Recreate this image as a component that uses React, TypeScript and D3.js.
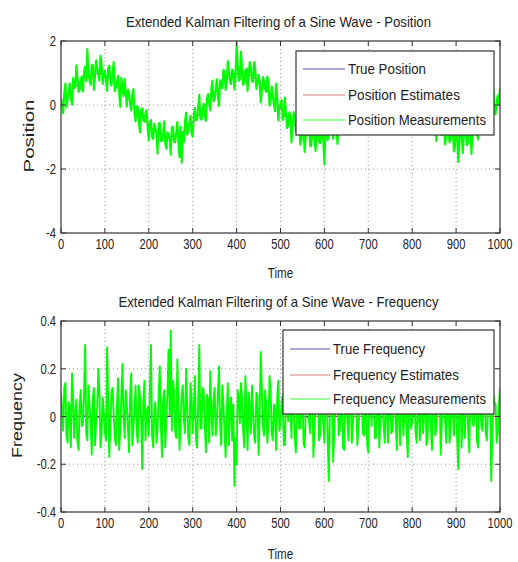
import React from "react";
import * as d3 from "d3";

// Sampling interval of the measurement traces (time units)
const STEP = 2.5;

const X_TICKS = [0, 100, 200, 300, 400, 500, 600, 700, 800, 900, 1000];
const POS_TICKS = [2, 0, -2, -4];
const FREQ_TICKS = [0.4, 0.2, 0, -0.2, -0.4];

// Noisy position measurements, one value every STEP time units (t = 0..1000)
const positionMeasurements = [
  0.21, -0.07, -0.26, 0.39, 0.67, -0.06, 0.16, 0.41, 0.67, 0.2,
  0.02, 0.84, 0.69, 0.53, 1.24, 0.84, 0.41, 0.45, 0.81, 0.89,
  0.42, 1.06, 1.2, 0.74, 1.75, 0.98, 0.77, 0.63, 1.23, 1.26,
  0.47, 0.92, 1.4, 1.16, 0.91, 0.76, 1.54, 1.29, 0.66, 0.94,
  1.07, 0.75, 0.44, 1.16, 1.23, 0.74, 0.6, 1.0, 1.34, 0.43,
  0.54, 0.72, 0.91, 0.38, -0.06, 0.85, 0.54, 0.28, 0.81, 0.36,
  -0.05, 0.48, 0.38, 0.03, -0.17, 0.34, 0.5, -0.28, -0.51, -0.05,
  -0.05, -0.55, -0.86, -0.14, -0.1, -0.46, -0.52, -0.24, -0.16, -0.75,
  -1.11, -0.53, -0.47, -1.0, -1.06, -0.59, -0.71, -0.91, -1.52, -0.57,
  -0.56, -1.12, -1.12, -0.92, -0.51, -1.23, -1.37, -0.85, -0.91, -1.09,
  -1.55, -0.7, -0.68, -1.14, -1.17, -0.88, -0.53, -1.19, -1.63, -0.67,
  -1.8, -0.87, -1.16, -0.52, -0.24, -0.93, -0.8, -0.55, -0.34, -0.88,
  -0.99, -0.33, -0.09, -0.48, -0.45, -0.08, 0.32, -0.42, -0.46, -0.12,
  0.04, -0.37, -0.5, 0.19, 0.34, 0.04, -0.17, 0.52, 0.76, 0.11,
  0.18, 0.49, 0.8, 0.23, -0.03, 0.77, 0.69, 0.53, 1.1, 1.05,
  0.47, 0.74, 1.37, 1.05, 0.74, 0.65, 1.11, 1.05, 0.49, 0.88,
  1.95, 1.24, 0.75, 0.8, 1.66, 1.09, 0.63, 0.71, 1.09, 1.14,
  0.44, 0.95, 1.34, 1.16, 0.75, 0.72, 1.34, 1.14, 0.5, 0.67,
  0.94, 0.76, 0.08, 0.41, 0.87, 0.76, 0.5, 0.41, 0.89, 0.69,
  -0.02, 0.12, 0.58, 0.34, -0.02, -0.19, 0.67, 0.2, -0.48, -0.11,
  0.05, 0.15, -0.47, -0.38, 0.23, -0.27, -0.72, -0.65, -0.23, -0.3,
  -1.17, -0.69, -0.22, -0.35, -0.79, -0.9, -0.41, -0.71, -1.24, -1.11,
  -0.6, -0.76, -1.47, -0.97, -0.78, -0.72, -0.52, -1.28, -1.29, -0.83,
  -0.91, -1.09, -1.44, -0.72, -0.38, -1.13, -1.2, -0.93, -0.62, -1.15,
  -1.85, -0.7, -0.67, -1.1, -0.96, -0.68, -0.27, -0.79, -1.06, -0.41,
  -0.34, -0.77, -1.22, -0.45, -0.08, -0.73, -0.44, -0.11, -0.02, -0.36,
  -0.62, 0.02, 0.47, -0.07, -0.25, 0.32, 0.22, -0.1, -0.35, 0.33,
  0.59, 0.17, 0.19, 0.74, 0.9, 0.3, 0.21, 0.72, 0.77, 0.61,
  0.1, 0.93, 1.12, 0.51, 0.73, 0.91, 1.39, 0.76, 0.51, 1.19,
  1.16, 0.86, 0.7, 1.16, 1.46, 0.77, 0.54, 1.3, 1.06, 0.92,
  1.33, 1.1, 0.66, 0.77, 1.54, 1.16, 0.71, 0.85, 1.11, 0.99,
  0.33, 0.52, 1.18, 0.8, 0.57, 0.52, 0.92, 0.87, -0.1, 0.29,
  0.64, 0.47, 0.01, 0.21, 0.78, 0.44, 0.14, -0.16, 0.47, 0.22,
  -0.45, -0.11, 0.18, 0.1, -0.41, -0.42, 0.26, -0.23, -0.71, -0.67,
  -0.35, -0.22, -1.12, -0.67, -0.19, -0.52, -0.85, -0.94, -0.47, -0.76,
  -1.23, -0.99, -0.24, -0.63, -1.17, -1.04, -0.76, -0.77, -1.45, -1.27,
  -0.64, -0.91, -1.78, -1.2, -0.54, -0.69, -1.51, -1.05, -0.75, -0.8,
  -1.25, -1.17, -0.51, -0.77, -1.54, -0.87, -0.66, -0.57, -0.45, -0.88,
  -1.08, -0.39, -0.09, -0.71, -0.75, -0.44, -0.21, -0.7, -0.84, -0.15,
  0.08, -0.34, -0.29, 0.09, 0.49, -0.24, -0.29, 0.13, 0.3, 0.0,
  0.55,
];

// Noisy frequency measurements, one value every STEP time units (t = 0..1000)
const frequencyMeasurements = [
  0.1, 0.03, -0.06, 0.12, 0.14, -0.08, -0.11, 0.06, 0.04, -0.13,
  0.18, 0.09, -0.09, 0.01, 0.07, -0.11, -0.14, 0.05, 0.11, -0.04,
  -0.03, 0.1, 0.3, -0.07, -0.1, 0.13, 0.05, -0.02, -0.16, 0.08,
  0.12, -0.12, -0.02, 0.04, 0.2, 0.11, -0.13, -0.06, 0.08, 0.02,
  -0.07, -0.1, 0.29, 0.07, -0.17, -0.03, 0.1, 0.12, 0.01, -0.09,
  -0.12, 0.05, 0.16, -0.14, -0.05, 0.08, 0.22, 0.0, -0.09, 0.11,
  0.05, -0.05, -0.15, 0.09, 0.18, -0.12, -0.04, 0.03, 0.13, -0.07,
  -0.11, 0.13, 0.08, -0.01, -0.22, 0.06, 0.15, -0.1, 0.02, 0.04,
  -0.08, 0.12, 0.3, -0.08, -0.13, 0.02, 0.06, -0.11, -0.05, 0.09,
  0.21, -0.04, -0.17, 0.07, 0.11, -0.13, -0.01, 0.1, 0.28, 0.01,
  0.36, -0.06, 0.15, 0.11, -0.06, -0.09, 0.24, 0.04, -0.14, -0.02,
  0.09, 0.13, -0.02, -0.07, 0.2, 0.05, -0.09, -0.12, 0.14, 0.08,
  -0.07, 0.03, 0.17, -0.1, -0.13, 0.06, 0.3, -0.05, -0.05, 0.12,
  0.11, -0.03, -0.15, 0.09, 0.07, -0.11, 0.19, 0.02, -0.08, 0.07,
  0.12, -0.08, -0.03, 0.1, 0.21, -0.04, -0.12, 0.13, 0.05, -0.06,
  -0.17, 0.01, 0.14, -0.12, 0.02, 0.08, -0.1, 0.05, -0.29, -0.09,
  -0.2, 0.11, 0.08, -0.03, 0.14, 0.07, -0.06, -0.13, 0.17, 0.04,
  -0.14, 0.1, 0.04, -0.07, 0.13, 0.02, -0.08, -0.11, 0.1, 0.09,
  -0.16, -0.01, 0.27, 0.12, -0.04, -0.08, 0.11, 0.05, -0.11, -0.04,
  0.17, 0.11, -0.07, -0.1, 0.05, 0.03, -0.14, 0.08, 0.15, -0.06,
  -0.02, 0.06, 0.09, -0.12, -0.12, 0.09, 0.07, -0.02, 0.18, 0.04,
  -0.09, 0.13, 0.03, -0.09, -0.15, 0.07, 0.12, -0.05, -0.05, 0.1,
  0.08, -0.11, -0.13, 0.02, 0.16, 0.08, -0.02, -0.07, 0.1, 0.12,
  -0.17, -0.04, 0.06, 0.05, 0.14, -0.1, -0.08, 0.11, 0.04, -0.03,
  -0.11, 0.07, 0.14, -0.09, -0.27, 0.01, 0.1, 0.1, -0.19, -0.06,
  0.07, 0.12, 0.15, -0.08, -0.06, 0.04, 0.09, -0.13, -0.14, 0.06,
  0.05, -0.02, -0.1, 0.09, 0.12, -0.11, -0.03, 0.05, 0.17, 0.08,
  -0.12, -0.05, 0.02, 0.11, 0.11, -0.07, -0.08, 0.03, 0.08, -0.12,
  -0.15, 0.1, 0.06, -0.04, 0.13, 0.06, -0.09, -0.09, 0.05, 0.13,
  -0.13, -0.01, 0.14, 0.07, -0.04, -0.11, 0.08, 0.04, -0.11, 0.08,
  0.1, -0.07, -0.06, 0.11, 0.16, -0.03, -0.14, 0.09, 0.03, -0.12,
  0.11, 0.05, -0.08, 0.02, 0.07, -0.08, -0.17, 0.1, 0.09, -0.05,
  -0.02, 0.12, 0.14, -0.06, -0.11, 0.04, 0.05, -0.1, 0.08, 0.07,
  -0.07, 0.01, 0.17, -0.12, -0.1, 0.09, 0.04, -0.04, -0.14, 0.11,
  0.11, -0.08, -0.05, 0.05, 0.08, 0.1, -0.16, -0.02, 0.13, 0.06,
  -0.02, -0.11, 0.06, 0.08, -0.11, -0.05, 0.15, 0.03, -0.08, 0.12,
  0.05, -0.09, -0.22, 0.07, 0.1, -0.13, 0.02, 0.04, -0.09, 0.09,
  0.12, -0.06, -0.15, 0.11, 0.07, -0.03, -0.04, 0.05, 0.11, -0.1,
  -0.13, 0.08, 0.08, -0.04, -0.06, 0.12, 0.14, -0.07, -0.1, 0.02,
  0.03, 0.1, -0.27, -0.08, 0.09, 0.06, 0.05, -0.11, -0.07, 0.04,
  0.12,
];

// Reference curves, sampled more coarsely (drawn beneath the measurements)
const curveTimes = [
  0, 15, 30, 45, 60, 75, 90, 105, 120, 135, 150, 165, 180, 195, 210, 225, 240,
  255, 270, 285, 300, 315, 330, 345, 360, 375, 390, 405, 420, 435, 450, 465, 480,
  495, 510, 525, 540, 555, 570, 585, 600, 615, 630, 645, 660, 675, 690, 705, 720,
  735, 750, 765, 780, 795, 810, 825, 840, 855, 870, 885, 900, 915, 930, 945, 960,
  975, 990, 1000,
];
const truePosition = [
  0, 0.28, 0.54, 0.76, 0.91, 0.99, 0.99, 0.91, 0.76, 0.54, 0.28, 0, -0.28, -0.54,
  -0.76, -0.91, -0.99, -0.99, -0.91, -0.76, -0.54, -0.28, 0, 0.28, 0.54, 0.76,
  0.91, 0.99, 0.99, 0.91, 0.76, 0.54, 0.28, 0, -0.28, -0.54, -0.76, -0.91, -0.99,
  -0.99, -0.91, -0.76, -0.54, -0.28, 0, 0.28, 0.54, 0.76, 0.91, 0.99, 0.99, 0.91,
  0.76, 0.54, 0.28, 0, -0.28, -0.54, -0.76, -0.91, -0.99, -0.99, -0.91, -0.76,
  -0.54, -0.28, 0, 0.19,
];
const positionEstimates = [
  0.1, 0.3, 0.52, 0.74, 0.92, 0.97, 1.0, 0.9, 0.74, 0.55, 0.27, 0.02, -0.27, -0.55,
  -0.75, -0.92, -0.98, -1.0, -0.9, -0.77, -0.53, -0.29, 0.01, 0.27, 0.55, 0.75,
  0.92, 0.98, 1.0, 0.9, 0.77, 0.53, 0.29, -0.01, -0.27, -0.55, -0.75, -0.92, -0.98,
  -1.0, -0.9, -0.77, -0.53, -0.29, 0.01, 0.27, 0.55, 0.75, 0.92, 0.98, 1.0, 0.9,
  0.77, 0.53, 0.29, -0.01, -0.27, -0.55, -0.75, -0.92, -0.98, -1.0, -0.9, -0.77,
  -0.53, -0.29, 0.01, 0.2,
];
const trueFrequency = curveTimes.map(() => 0.0);
const frequencyEstimates = [
  0.02, 0.01, 0.0, 0.01, 0.0, -0.01, 0.0, 0.01, 0.0, 0.0, 0.01, 0.0, 0.0, -0.01,
  0.0, 0.0, 0.01, 0.0, 0.0, 0.0, -0.01, 0.0, 0.0, 0.01, 0.0, 0.0, 0.0, 0.0, -0.01,
  0.0, 0.0, 0.01, 0.0, 0.0, 0.0, 0.0, 0.0, -0.01, 0.0, 0.0, 0.0, 0.01, 0.0, 0.0,
  0.0, 0.0, 0.0, 0.0, -0.01, 0.0, 0.0, 0.0, 0.0, 0.01, 0.0, 0.0, 0.0, 0.0, 0.0,
  0.0, -0.01, 0.0, 0.0, 0.0, 0.0, 0.0, 0.0, 0.0,
];

const FONT = "'Liberation Sans', Arial, Helvetica, sans-serif";
const SQUEEZE = 0.8;
const BLUE = "#2020a0";
const RED = "#d05050";
const GREEN = "#00ff00";
const INK = "#222";

type Series = { x: number[]; y: number[]; color: string; width: number };
type LegendItem = { label: string; color: string; width: number };

// Horizontally condensed text anchored at (x, y); `width` fixes the drawn length
function NText(props: {
  x: number; y: number; size: number; anchor?: "start" | "middle" | "end";
  rotate?: number; width?: number; squeeze?: number; children: React.ReactNode;
}) {
  const { x, y, size, anchor = "start", rotate = 0, width, squeeze = SQUEEZE, children } = props;
  return (
    <text
      transform={`translate(${x},${y}) rotate(${rotate}) scale(${squeeze},1)`}
      textAnchor={anchor} fontFamily={FONT} fontSize={size} fill={INK}
      textLength={width !== undefined ? width / squeeze : undefined}
      lengthAdjust={width !== undefined ? "spacingAndGlyphs" : undefined}
    >
      {children}
    </text>
  );
}

type PanelProps = {
  id: string;
  top: number;
  bottom: number;
  left: number;
  right: number;
  yDomain: [number, number];
  yTicks: number[];
  title: string;
  titleY: number;
  titleWidth: number;
  ylabel: string;
  ylabelX: number;
  ylabelWidth: number;
  xlabelY: number;
  series: Series[];
  legend: LegendItem[];
  legendBox: { x0: number; x1: number; y0: number; y1: number };
  legendLine: [number, number];
  legendRows: number[];
};

function Panel(p: PanelProps) {
  const x = d3.scaleLinear().domain([0, 1000]).range([p.left, p.right]);
  const y = d3.scaleLinear().domain(p.yDomain).range([p.bottom, p.top]);
  const tick = 5;
  const gridColor = "#707070";

  return (
    <g>
      <defs>
        <clipPath id={`clip-${p.id}`}>
          <rect x={p.left} y={p.top} width={p.right - p.left} height={p.bottom - p.top} />
        </clipPath>
      </defs>
      <rect x={p.left} y={p.top} width={p.right - p.left} height={p.bottom - p.top} fill="#fff" />
      {/* dotted grid */}
      {X_TICKS.slice(1, -1).map((t) => (
        <line key={`gx${t}`} x1={x(t)} x2={x(t)} y1={p.top} y2={p.bottom}
          stroke={gridColor} strokeWidth={1} strokeDasharray="1,3" opacity={0.75} />
      ))}
      {p.yTicks.filter((t) => t !== p.yDomain[0] && t !== p.yDomain[1]).map((t) => (
        <line key={`gy${t}`} x1={p.left} x2={p.right} y1={y(t)} y2={y(t)}
          stroke={gridColor} strokeWidth={1} strokeDasharray="1,3" opacity={0.75} />
      ))}
      {/* data */}
      <g clipPath={`url(#clip-${p.id})`}>
        {p.series.map((s, i) => {
          const pts = s.y.map((v, k) => [s.x[k], v] as [number, number]);
          const path = d3.line<[number, number]>()
            .x((d) => x(d[0]))
            .y((d) => y(d[1]))(pts);
          return (
            <path key={i} d={path ?? ""} fill="none" stroke={s.color}
              strokeWidth={s.width} strokeLinejoin="round" />
          );
        })}
      </g>
      {/* box and ticks */}
      <rect x={p.left} y={p.top} width={p.right - p.left} height={p.bottom - p.top}
        fill="none" stroke="#333" strokeWidth={1.2} />
      {X_TICKS.map((t) => (
        <g key={`tx${t}`}>
          <line x1={x(t)} x2={x(t)} y1={p.bottom} y2={p.bottom - tick} stroke="#333" />
          <line x1={x(t)} x2={x(t)} y1={p.top} y2={p.top + tick} stroke="#333" />
          <NText x={x(t)} y={p.bottom + 16} size={14} anchor="middle">{t}</NText>
        </g>
      ))}
      {p.yTicks.map((t) => (
        <g key={`ty${t}`}>
          <line x1={p.left} x2={p.left + tick} y1={y(t)} y2={y(t)} stroke="#333" />
          <line x1={p.right} x2={p.right - tick} y1={y(t)} y2={y(t)} stroke="#333" />
          <NText x={p.left - 5} y={y(t) + 5} size={14} anchor="end">{String(t)}</NText>
        </g>
      ))}
      {/* labels */}
      <NText x={(p.left + p.right) / 2 - 2} y={p.titleY} size={14.5} anchor="middle"
        width={p.titleWidth}>{p.title}</NText>
      <NText x={(p.left + p.right) / 2} y={p.xlabelY} size={14.5} anchor="middle">Time</NText>
      <NText x={p.ylabelX} y={(p.top + p.bottom) / 2 - 1} size={14} anchor="middle" rotate={-90}
        squeeze={1} width={p.ylabelWidth}>
        {p.ylabel}
      </NText>
      {/* legend */}
      <rect x={p.legendBox.x0} y={p.legendBox.y0} width={p.legendBox.x1 - p.legendBox.x0}
        height={p.legendBox.y1 - p.legendBox.y0} fill="#fff" stroke="#333" strokeWidth={1.2} />
      {p.legend.map((item, i) => (
        <g key={item.label}>
          <line x1={p.legendLine[0]} x2={p.legendLine[1]} y1={p.legendRows[i]} y2={p.legendRows[i]}
            stroke={item.color} strokeWidth={1.2} opacity={0.75} />
          <NText x={p.legendLine[1] + 3} y={p.legendRows[i] + 5} size={15}
            width={item.width}>{item.label}</NText>
        </g>
      ))}
    </g>
  );
}

export default function App() {
  const measTimes = d3.range(positionMeasurements.length).map((k) => k * STEP);
  return (
    <svg width={518} height={562} style={{ position: "absolute", left: 0, top: 0, background: "#fff" }}>
      <rect width={518} height={562} fill="#fff" />
      <Panel
        id="pos"
        top={41} bottom={233} left={61} right={500}
        yDomain={[-4, 2]} yTicks={POS_TICKS}
        title="Extended Kalman Filtering of a Sine Wave - Position" titleY={27} titleWidth={305}
        ylabel="Position" ylabelX={34} ylabelWidth={73}
        xlabelY={278}
        series={[
          { x: curveTimes, y: truePosition, color: BLUE, width: 0.7 },
          { x: curveTimes, y: positionEstimates, color: RED, width: 0.7 },
          { x: measTimes, y: positionMeasurements, color: GREEN, width: 2.1 },
        ]}
        legend={[
          { label: "True Position", color: BLUE, width: 78 },
          { label: "Position Estimates", color: RED, width: 112 },
          { label: "Position Measurements", color: GREEN, width: 138 },
        ]}
        legendBox={{ x0: 296, x1: 494, y0: 51, y1: 135 }}
        legendLine={[303, 345]}
        legendRows={[69, 95, 120]}
      />
      <Panel
        id="freq"
        top={321} bottom={512} left={61} right={500}
        yDomain={[-0.4, 0.4]} yTicks={FREQ_TICKS}
        title="Extended Kalman Filtering of a Sine Wave - Frequency" titleY={307} titleWidth={320}
        ylabel="Frequency" ylabelX={22} ylabelWidth={85}
        xlabelY={559}
        series={[
          { x: curveTimes, y: trueFrequency, color: BLUE, width: 1 },
          { x: curveTimes, y: frequencyEstimates, color: RED, width: 1 },
          { x: measTimes, y: frequencyMeasurements, color: GREEN, width: 1.9 },
        ]}
        legend={[
          { label: "True Frequency", color: BLUE, width: 92 },
          { label: "Frequency Estimates", color: RED, width: 126 },
          { label: "Frequency Measurements", color: GREEN, width: 153 },
        ]}
        legendBox={{ x0: 283, x1: 494, y0: 330, y1: 414 }}
        legendLine={[290, 330]}
        legendRows={[349, 375, 399]}
      />
    </svg>
  );
}
